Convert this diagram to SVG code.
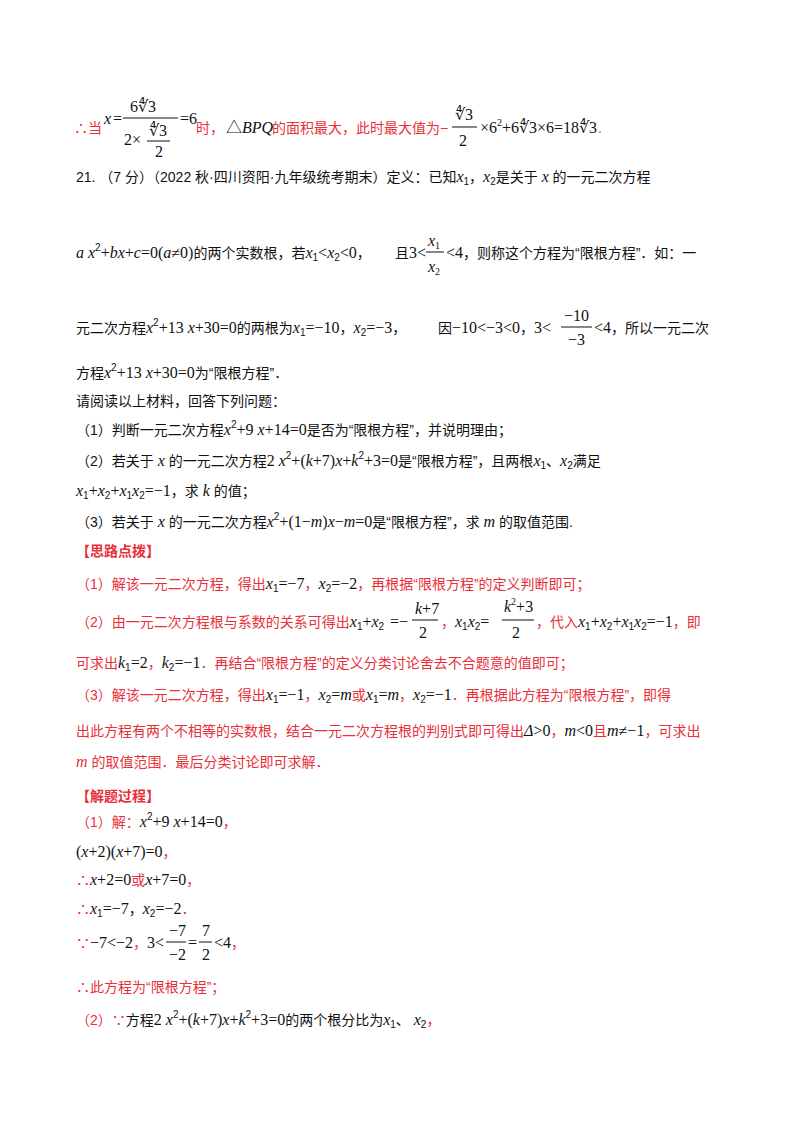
<svg xmlns="http://www.w3.org/2000/svg" width="800" height="1132" viewBox="0 0 800 1132">
<style>
text{font-family:"Liberation Sans","Noto Sans CJK SC",sans-serif;font-size:14px;fill:#111}
.r{fill:#e8303a}
.m{font-family:"Liberation Serif","Noto Sans CJK SC",serif;font-size:16px}
.i{font-style:italic}
.b{font-weight:bold}
.s{font-size:10px}
line{stroke:#111;stroke-width:1}
</style>
<rect width="800" height="1132" fill="#fff"/>
<g id="line1">
<text x="74" y="133" class="r">∴当</text>
<text x="104" y="124" class="m i">x</text><text x="113" y="124" class="m">=</text>
<text x="130" y="112" class="m">6∜3</text>
<line x1="123" y1="118" x2="178" y2="118"/>
<text x="124" y="145" class="m">2×</text>
<text x="149" y="136" class="m">∜3</text>
<line x1="147" y1="141" x2="170" y2="141"/>
<text x="155" y="157" class="m">2</text>
<text x="180" y="124" class="m">=6</text>
<text x="196" y="133" class="r">时，</text>
<text x="226" y="133" class="m">△<tspan class="i">BPQ</tspan></text>
<text x="272" y="133" class="r">的面积最大，此时最大值为−</text>
<text x="455" y="120" class="m">∜3</text>
<line x1="452" y1="127" x2="477" y2="127"/>
<text x="459" y="146" class="m">2</text>
<text x="480" y="133" class="m">×6<tspan class="s" dy="-7">2</tspan><tspan dy="7">+6∜3×6=18∜3</tspan></text>
<text x="598" y="133" class="r">.</text>
</g>
<g id="q21">
<text x="76" y="182">21. （7 分）（2022 秋·四川资阳·九年级统考期末）定义：已知<tspan class="m i">x</tspan><tspan class="s" dy="3">1</tspan><tspan dy="-3">，</tspan><tspan class="m i">x</tspan><tspan class="s" dy="3">2</tspan><tspan dy="-3">是关于 </tspan><tspan class="m i">x</tspan><tspan> 的一元二次方程</tspan></text>
<text x="76" y="258"><tspan class="m i">a x</tspan><tspan class="s" dy="-7">2</tspan><tspan class="m" dy="7">+</tspan><tspan class="m i">bx</tspan><tspan class="m">+</tspan><tspan class="m i">c</tspan><tspan class="m">=0(</tspan><tspan class="m i">a</tspan><tspan class="m">≠0)</tspan>的两个实数根，若<tspan class="m i">x</tspan><tspan class="s" dy="3">1</tspan><tspan class="m" dy="-3">&lt;</tspan><tspan class="m i">x</tspan><tspan class="s" dy="3">2</tspan><tspan class="m" dy="-3">&lt;0</tspan>，</text>
<text x="395" y="258">且<tspan class="m">3&lt;</tspan></text>
<text x="428" y="246" class="m i">x<tspan class="s" style="font-style:normal" dy="3">1</tspan></text>
<line x1="426" y1="252" x2="444" y2="252"/>
<text x="428" y="272" class="m i">x<tspan class="s" style="font-style:normal" dy="3">2</tspan></text>
<text x="446" y="258"><tspan class="m">&lt;4</tspan>，则称这个方程为“限根方程”．如：一</text>
<text x="76" y="333">元二次方程<tspan class="m i">x</tspan><tspan class="s" dy="-7">2</tspan><tspan class="m" dy="7">+13</tspan><tspan class="m i"> x</tspan><tspan class="m">+30=0</tspan>的两根为<tspan class="m i">x</tspan><tspan class="s" dy="3">1</tspan><tspan class="m" dy="-3">=−10</tspan>，<tspan class="m i">x</tspan><tspan class="s" dy="3">2</tspan><tspan class="m" dy="-3">=−3</tspan>，</text>
<text x="438" y="333">因<tspan class="m">−10&lt;−3&lt;0</tspan>，<tspan class="m">3&lt;</tspan></text>
<text x="564" y="321" class="m">−10</text>
<line x1="561" y1="327" x2="592" y2="327"/>
<text x="568" y="345" class="m">−3</text>
<text x="594" y="333"><tspan class="m">&lt;4</tspan>，所以一元二次</text>
<text x="76" y="378">方程<tspan class="m i">x</tspan><tspan class="s" dy="-7">2</tspan><tspan class="m" dy="7">+13</tspan><tspan class="m i"> x</tspan><tspan class="m">+30=0</tspan>为“限根方程”．</text>
<text x="76" y="406">请阅读以上材料，回答下列问题：</text>
<text x="76" y="435">（1）判断一元二次方程<tspan class="m i">x</tspan><tspan class="s" dy="-7">2</tspan><tspan class="m" dy="7">+9</tspan><tspan class="m i"> x</tspan><tspan class="m">+14=0</tspan>是否为“限根方程”，并说明理由；</text>
<text x="76" y="466">（2）若关于 <tspan class="m i">x</tspan> 的一元二次方程<tspan class="m">2</tspan><tspan class="m i"> x</tspan><tspan class="s" dy="-7">2</tspan><tspan class="m" dy="7">+(</tspan><tspan class="m i">k</tspan><tspan class="m">+7)</tspan><tspan class="m i">x</tspan><tspan class="m">+</tspan><tspan class="m i">k</tspan><tspan class="s" dy="-7">2</tspan><tspan class="m" dy="7">+3=0</tspan>是“限根方程”，且两根<tspan class="m i">x</tspan><tspan class="s" dy="3">1</tspan><tspan dy="-3">、</tspan><tspan class="m i">x</tspan><tspan class="s" dy="3">2</tspan><tspan dy="-3">满足</tspan></text>
<text x="76" y="496"><tspan class="m i">x</tspan><tspan class="s" dy="3">1</tspan><tspan class="m" dy="-3">+</tspan><tspan class="m i">x</tspan><tspan class="s" dy="3">2</tspan><tspan class="m" dy="-3">+</tspan><tspan class="m i">x</tspan><tspan class="s" dy="3">1</tspan><tspan class="m i" dy="-3">x</tspan><tspan class="s" dy="3">2</tspan><tspan class="m" dy="-3">=−1</tspan>，求 <tspan class="m i">k</tspan> 的值；</text>
<text x="76" y="527">（3）若关于 <tspan class="m i">x</tspan> 的一元二次方程<tspan class="m i">x</tspan><tspan class="s" dy="-7">2</tspan><tspan class="m" dy="7">+(1−</tspan><tspan class="m i">m</tspan><tspan class="m">)</tspan><tspan class="m i">x</tspan><tspan class="m">−</tspan><tspan class="m i">m</tspan><tspan class="m">=0</tspan>是“限根方程”，求 <tspan class="m i">m</tspan> 的取值范围.</text>
</g>
<g id="hint">
<text x="76" y="556" class="r b">【思路点拨】</text>
<text x="76" y="589" class="r">（1）解该一元二次方程，得出<tspan class="m i" style="fill:#111">x</tspan><tspan class="s" style="fill:#111" dy="3">1</tspan><tspan class="m" style="fill:#111" dy="-3">=−7</tspan>，<tspan class="m i" style="fill:#111">x</tspan><tspan class="s" style="fill:#111" dy="3">2</tspan><tspan class="m" style="fill:#111" dy="-3">=−2</tspan>，再根据“限根方程”的定义判断即可；</text>
<text x="76" y="627" class="r">（2）由一元二次方程根与系数的关系可得出<tspan class="m i" style="fill:#111">x</tspan><tspan class="s" style="fill:#111" dy="3">1</tspan><tspan class="m" style="fill:#111" dy="-3">+</tspan><tspan class="m i" style="fill:#111">x</tspan><tspan class="s" style="fill:#111" dy="3">2</tspan></text>
<text x="390" y="627" class="m">=−</text>
<text x="415" y="614" class="m i">k<tspan style="font-style:normal">+7</tspan></text>
<line x1="412" y1="620" x2="438" y2="620"/>
<text x="419" y="638" class="m">2</text>
<text x="441" y="627" class="r">，<tspan class="m i" style="fill:#111">x</tspan><tspan class="s" style="fill:#111" dy="3">1</tspan><tspan class="m i" style="fill:#111" dy="-3">x</tspan><tspan class="s" style="fill:#111" dy="3">2</tspan><tspan class="m" style="fill:#111" dy="-3">=</tspan></text>
<text x="504" y="612" class="m i">k<tspan class="s" style="font-style:normal" dy="-7">2</tspan><tspan style="font-style:normal" dy="7">+3</tspan></text>
<line x1="502" y1="620" x2="534" y2="620"/>
<text x="512" y="638" class="m">2</text>
<text x="536" y="627" class="r">，代入<tspan class="m i" style="fill:#111">x</tspan><tspan class="s" style="fill:#111" dy="3">1</tspan><tspan class="m" style="fill:#111" dy="-3">+</tspan><tspan class="m i" style="fill:#111">x</tspan><tspan class="s" style="fill:#111" dy="3">2</tspan><tspan class="m" style="fill:#111" dy="-3">+</tspan><tspan class="m i" style="fill:#111">x</tspan><tspan class="s" style="fill:#111" dy="3">1</tspan><tspan class="m i" style="fill:#111" dy="-3">x</tspan><tspan class="s" style="fill:#111" dy="3">2</tspan><tspan class="m" style="fill:#111" dy="-3">=−1</tspan>，即</text>
<text x="76" y="668" class="r">可求出<tspan class="m i" style="fill:#111">k</tspan><tspan class="s" style="fill:#111" dy="3">1</tspan><tspan class="m" style="fill:#111" dy="-3">=2</tspan>，<tspan class="m i" style="fill:#111">k</tspan><tspan class="s" style="fill:#111" dy="3">2</tspan><tspan class="m" style="fill:#111" dy="-3">=−1</tspan>．再结合“限根方程”的定义分类讨论舍去不合题意的值即可；</text>
<text x="76" y="700" class="r">（3）解该一元二次方程，得出<tspan class="m i" style="fill:#111">x</tspan><tspan class="s" style="fill:#111" dy="3">1</tspan><tspan class="m" style="fill:#111" dy="-3">=−1</tspan>，<tspan class="m i" style="fill:#111">x</tspan><tspan class="s" style="fill:#111" dy="3">2</tspan><tspan class="m" style="fill:#111" dy="-3">=</tspan><tspan class="m i" style="fill:#111">m</tspan>或<tspan class="m i" style="fill:#111">x</tspan><tspan class="s" style="fill:#111" dy="3">1</tspan><tspan class="m" style="fill:#111" dy="-3">=</tspan><tspan class="m i" style="fill:#111">m</tspan>，<tspan class="m i" style="fill:#111">x</tspan><tspan class="s" style="fill:#111" dy="3">2</tspan><tspan class="m" style="fill:#111" dy="-3">=−1</tspan>．再根据此方程为“限根方程”，即得</text>
<text x="76" y="736" class="r">出此方程有两个不相等的实数根，结合一元二次方程根的判别式即可得出<tspan class="m i" style="fill:#111">Δ</tspan><tspan class="m" style="fill:#111">&gt;0</tspan>，<tspan class="m i" style="fill:#111">m</tspan><tspan class="m" style="fill:#111">&lt;0</tspan>且<tspan class="m i" style="fill:#111">m</tspan><tspan class="m" style="fill:#111">≠−1</tspan>，可求出</text>
<text x="76" y="767" class="r"><tspan class="m i">m</tspan> 的取值范围．最后分类讨论即可求解．</text>
</g>
<g id="solution">
<text x="76" y="801" class="r b">【解题过程】</text>
<text x="76" y="827"><tspan class="r">（1）解：</tspan><tspan class="m i">x</tspan><tspan class="s" dy="-7">2</tspan><tspan class="m" dy="7">+9</tspan><tspan class="m i"> x</tspan><tspan class="m">+14=0</tspan><tspan class="r">，</tspan></text>
<text x="76" y="857"><tspan class="m">(</tspan><tspan class="m i">x</tspan><tspan class="m">+2)(</tspan><tspan class="m i">x</tspan><tspan class="m">+7)=0</tspan><tspan class="r">，</tspan></text>
<text x="76" y="885"><tspan class="r">∴</tspan><tspan class="m i">x</tspan><tspan class="m">+2=0</tspan><tspan class="r">或</tspan><tspan class="m i">x</tspan><tspan class="m">+7=0</tspan><tspan class="r">，</tspan></text>
<text x="76" y="914"><tspan class="r">∴</tspan><tspan class="m i">x</tspan><tspan class="s" dy="3">1</tspan><tspan class="m" dy="-3">=−7</tspan>，<tspan class="m i">x</tspan><tspan class="s" dy="3">2</tspan><tspan class="m" dy="-3">=−2</tspan><tspan class="r">．</tspan></text>
<text x="76" y="948"><tspan class="r">∵</tspan><tspan class="m">−7&lt;−2</tspan><tspan class="r">，</tspan><tspan class="m">3&lt;</tspan></text>
<text x="169" y="936" class="m">−7</text>
<line x1="166" y1="942" x2="186" y2="942"/>
<text x="169" y="960" class="m">−2</text>
<text x="188" y="948" class="m">=</text>
<text x="202" y="936" class="m">7</text>
<line x1="199" y1="942" x2="212" y2="942"/>
<text x="202" y="960" class="m">2</text>
<text x="214" y="948"><tspan class="m">&lt;4</tspan><tspan class="r">，</tspan></text>
<text x="76" y="992" class="r">∴此方程为“限根方程”；</text>
<text x="76" y="1025"><tspan class="r">（2）∵</tspan>方程<tspan class="m">2</tspan><tspan class="m i"> x</tspan><tspan class="s" dy="-7">2</tspan><tspan class="m" dy="7">+(</tspan><tspan class="m i">k</tspan><tspan class="m">+7)</tspan><tspan class="m i">x</tspan><tspan class="m">+</tspan><tspan class="m i">k</tspan><tspan class="s" dy="-7">2</tspan><tspan class="m" dy="7">+3=0</tspan>的两个根分比为<tspan class="m i">x</tspan><tspan class="s" dy="3">1</tspan><tspan dy="-3">、 </tspan><tspan class="m i">x</tspan><tspan class="s" dy="3">2</tspan><tspan dy="-3" class="r">，</tspan></text>
</g>
</svg>
